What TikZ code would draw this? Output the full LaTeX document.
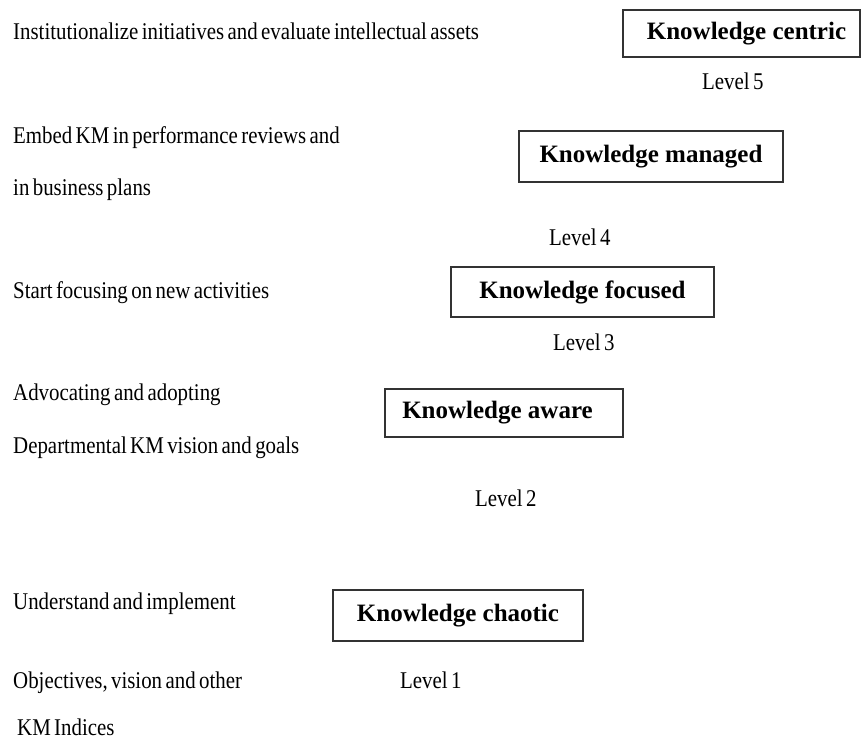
\documentclass[tikz,border=0pt]{standalone}
\usepackage{fontspec}
\setmainfont{Liberation Serif}
\newfontfamily\condfont[FakeStretch=0.87,WordSpace=0.65]{Liberation Serif}
\begin{document}
\begin{tikzpicture}[x=1pt,y=-1pt,
  lvlbox/.style={draw=black!80, line width=1.5pt, inner sep=0pt,
    font=\fontsize{25}{30}\selectfont\bfseries},
  side/.style={anchor=base west, inner sep=0pt, font=\condfont\fontsize{24}{28}\selectfont},
  lvl/.style={anchor=base west, inner sep=0pt, font=\condfont\fontsize{24}{28}\selectfont}]
\useasboundingbox (0,0) rectangle (862,740);
% boxes
\node[lvlbox, minimum width=237pt, minimum height=47pt] (b5) at (741.5,33.5) {\hspace*{10pt}Knowledge centric};
\node[lvlbox, minimum width=264pt, minimum height=51pt] (b4) at (651,156.5) {Knowledge managed};
\node[lvlbox, minimum width=263pt, minimum height=50pt] (b3) at (582.5,292) {Knowledge focused};
\node[lvlbox, minimum width=238pt, minimum height=48pt] (b2) at (504,413) {Knowledge aware\hspace*{13pt}};
\node[lvlbox, minimum width=250pt, minimum height=51pt] (b1) at (458,615.5) {Knowledge chaotic};
% level labels
\node[lvl] (l5) at (702,89) {Level 5};
\node[lvl] (l4) at (549,245) {Level 4};
\node[lvl] (l3) at (553,350) {Level 3};
\node[lvl] (l2) at (475,506) {Level 2};
\node[lvl] (l1) at (400,688) {Level 1};
% side texts
\node[side] (t5) at (13,39) {Institutionalize initiatives and evaluate intellectual assets};
\node[side] (t4a) at (13,143) {Embed KM in performance reviews and};
\node[side] (t4b) at (13,195) {in business plans};
\node[side] (t3) at (13,298) {Start focusing on new activities};
\node[side] (t2a) at (13,400) {Advocating and adopting};
\node[side] (t2b) at (13,453) {Departmental KM vision and goals};
\node[side] (t1a) at (13,609) {Understand and implement};
\node[side] (t1b) at (13,688) {Objectives, vision and other};
\node[side] (t1c) at (17,735) {KM Indices};
\end{tikzpicture}
\end{document}
